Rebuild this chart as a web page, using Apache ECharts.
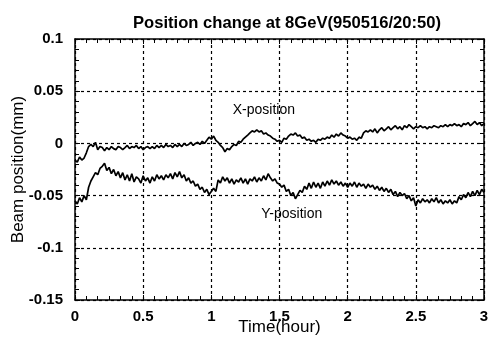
<!DOCTYPE html>
<html><head><meta charset="utf-8">
<script src="https://cdn.jsdelivr.net/npm/echarts@6/dist/echarts.min.js"></script>
<style>html,body{margin:0;padding:0;background:#fff;}#c{width:488px;height:338px;}</style>
</head><body><div id="c"></div>
<script>
const titleText = 'Position change at 8GeV(950516/20:50)';
const xName = 'Time(hour)';
const yName = 'Beam position(mm)';
const xTickLabels = ['0','0.5','1','1.5','2','2.5','3'];
const yTickLabels = ['-0.15','-0.1','-0.05','0','0.05','0.1'];
const SAMPLE_STEP_HOURS = 1/60;
const xPosition = [
-0.016,-0.018,-0.013,-0.016,-0.014,-0.009,-0.003,-0.001,-0.003,0.001,
-0.006,-0.003,-0.004,-0.007,-0.004,-0.006,-0.003,-0.005,-0.006,-0.003,
-0.004,-0.006,-0.004,-0.002,-0.005,-0.003,-0.004,-0.002,-0.005,-0.003,
-0.006,-0.004,-0.003,-0.005,-0.003,-0.005,-0.002,-0.004,-0.002,-0.004,
-0.001,-0.003,-0.002,-0.004,-0.001,-0.003,-0.001,-0.003,0.000,-0.002,
-0.001,0.001,-0.002,0.000,0.001,-0.001,0.002,0.000,0.003,0.006,
0.004,0.007,0.003,0.001,-0.002,-0.004,-0.008,-0.005,-0.006,-0.003,
-0.001,-0.002,0.002,0.001,0.004,0.006,0.008,0.010,0.012,0.011,
0.013,0.011,0.012,0.009,0.010,0.008,0.007,0.005,0.004,0.002,
0.003,0.001,0.005,0.004,0.007,0.009,0.008,0.010,0.007,0.008,
0.005,0.006,0.003,0.004,0.002,0.003,0.001,0.004,0.003,0.005,
0.004,0.006,0.005,0.008,0.006,0.009,0.007,0.010,0.008,0.007,
0.005,0.006,0.004,0.005,0.003,0.006,0.005,0.010,0.012,0.011,
0.013,0.011,0.014,0.010,0.013,0.015,0.012,0.014,0.016,0.013,
0.015,0.017,0.014,0.016,0.013,0.017,0.015,0.018,0.016,0.014,
0.016,0.015,0.017,0.015,0.016,0.014,0.016,0.015,0.017,0.016,
0.015,0.017,0.016,0.018,0.016,0.018,0.017,0.019,0.017,0.018,
0.016,0.019,0.018,0.020,0.017,0.019,0.021,0.018,0.020,0.017,
0.019];
const yPosition = [
-0.055,-0.058,-0.052,-0.056,-0.050,-0.054,-0.042,-0.036,-0.032,-0.028,
-0.030,-0.024,-0.022,-0.019,-0.026,-0.023,-0.029,-0.025,-0.031,-0.027,
-0.033,-0.028,-0.035,-0.030,-0.036,-0.029,-0.037,-0.032,-0.034,-0.038,
-0.031,-0.036,-0.033,-0.038,-0.032,-0.036,-0.030,-0.034,-0.031,-0.035,
-0.030,-0.033,-0.029,-0.034,-0.028,-0.032,-0.027,-0.033,-0.030,-0.036,
-0.033,-0.038,-0.036,-0.041,-0.039,-0.044,-0.042,-0.047,-0.044,-0.049,
-0.046,-0.043,-0.046,-0.035,-0.038,-0.032,-0.036,-0.033,-0.038,-0.034,
-0.039,-0.035,-0.037,-0.033,-0.038,-0.034,-0.039,-0.034,-0.036,-0.032,
-0.037,-0.033,-0.036,-0.031,-0.035,-0.029,-0.033,-0.036,-0.034,-0.038,
-0.039,-0.042,-0.040,-0.046,-0.044,-0.050,-0.047,-0.053,-0.049,-0.045,
-0.047,-0.041,-0.044,-0.038,-0.043,-0.037,-0.042,-0.038,-0.043,-0.037,
-0.041,-0.036,-0.040,-0.035,-0.039,-0.036,-0.040,-0.037,-0.041,-0.038,
-0.042,-0.038,-0.041,-0.037,-0.042,-0.038,-0.041,-0.039,-0.043,-0.039,
-0.042,-0.040,-0.044,-0.041,-0.045,-0.042,-0.046,-0.043,-0.047,-0.044,
-0.049,-0.046,-0.051,-0.047,-0.050,-0.048,-0.053,-0.050,-0.055,-0.052,
-0.060,-0.054,-0.057,-0.053,-0.056,-0.054,-0.057,-0.053,-0.056,-0.052,
-0.057,-0.054,-0.058,-0.055,-0.057,-0.054,-0.058,-0.055,-0.057,-0.051,
-0.054,-0.049,-0.052,-0.047,-0.051,-0.046,-0.050,-0.045,-0.049,-0.044,
-0.047];
const annotations = [
  {text:'X-position', t:1.385, v:0.032},
  {text:'Y-position', t:1.59, v:-0.0676}
];

const FONT = "'Liberation Sans', Arial, Helvetica, sans-serif";
const times = xPosition.map((_, i) => +(i * SAMPLE_STEP_HOURS).toFixed(4));
const pair = arr => arr.map((v, i) => [times[i], v]);
const lookup = (labels) => (val) => {
  const m = labels.find(s => Math.abs(parseFloat(s) - val) < 1e-9);
  return m !== undefined ? m : '';
};
const grid = {left:75, right:4, top:39, bottom:38, containLabel:false, outerBoundsMode:'none'};
const dashed = {show:true, lineStyle:{color:'#000', type:[3,3], width:1.2}};
const baseX = {type:'value', min:0, max:3, interval:0.5,
  axisLine:{show:true, onZero:false, lineStyle:{color:'#000', width:1.5}},
  axisTick:{show:true, inside:true, length:5, lineStyle:{color:'#000'}},
  minorTick:{show:true, splitNumber:6, length:4, lineStyle:{color:'#000'}}};
const baseY = {type:'value', min:-0.15, max:0.1, interval:0.05,
  axisLine:{show:true, onZero:false, lineStyle:{color:'#000', width:1.5}},
  axisTick:{show:true, inside:true, length:5, lineStyle:{color:'#000'}},
  minorTick:{show:true, splitNumber:5, length:4, lineStyle:{color:'#000'}}};

const chart = echarts.init(document.getElementById('c'), null, {renderer:'canvas'});
chart.setOption({
  backgroundColor:'#fff',
  animation:false,
  title:{text:titleText, left:282, top:10, textAlign:'center',
    textStyle:{fontFamily:FONT, fontSize:16.6, fontWeight:'bold', color:'#000'}},
  grid: grid,
  xAxis:[
    Object.assign({}, baseX, {position:'bottom',
      name:xName, nameLocation:'middle', nameGap:19, nameMoveOverlap:false,
      nameTextStyle:{fontFamily:FONT, fontSize:17, color:'#000'},
      axisLabel:{fontFamily:FONT, fontSize:15, fontWeight:'bold', color:'#000', margin:9, formatter:lookup(xTickLabels)},
      splitLine:dashed}),
    Object.assign({}, baseX, {position:'top', axisLabel:{show:false}, splitLine:{show:false}})
  ],
  yAxis:[
    Object.assign({}, baseY, {position:'left',
      name:yName, nameLocation:'middle', nameGap:48, nameMoveOverlap:false,
      nameTextStyle:{fontFamily:FONT, fontSize:17, color:'#000'},
      axisLabel:{fontFamily:FONT, fontSize:15, fontWeight:'bold', color:'#000', margin:12, formatter:lookup(yTickLabels)},
      splitLine:dashed}),
    Object.assign({}, baseY, {position:'right', axisLabel:{show:false}, splitLine:{show:false}})
  ],
  series:[
    {type:'line', name:'X-position', data:pair(xPosition), showSymbol:false, symbol:'none',
     lineStyle:{color:'#000', width:1.7}, xAxisIndex:0, yAxisIndex:0},
    {type:'line', name:'Y-position', data:pair(yPosition), showSymbol:false, symbol:'none',
     lineStyle:{color:'#000', width:1.7}, xAxisIndex:0, yAxisIndex:0}
  ]
});
const g = annotations.map(a => {
  const p = chart.convertToPixel({xAxisIndex:0, yAxisIndex:0}, [a.t, a.v]);
  return {type:'text', x:p[0], y:p[1], style:{text:a.text, font:'14px ' + FONT, fill:'#000',
    align:'center', verticalAlign:'middle'}};
});
chart.setOption({graphic:g});
</script></body></html>
